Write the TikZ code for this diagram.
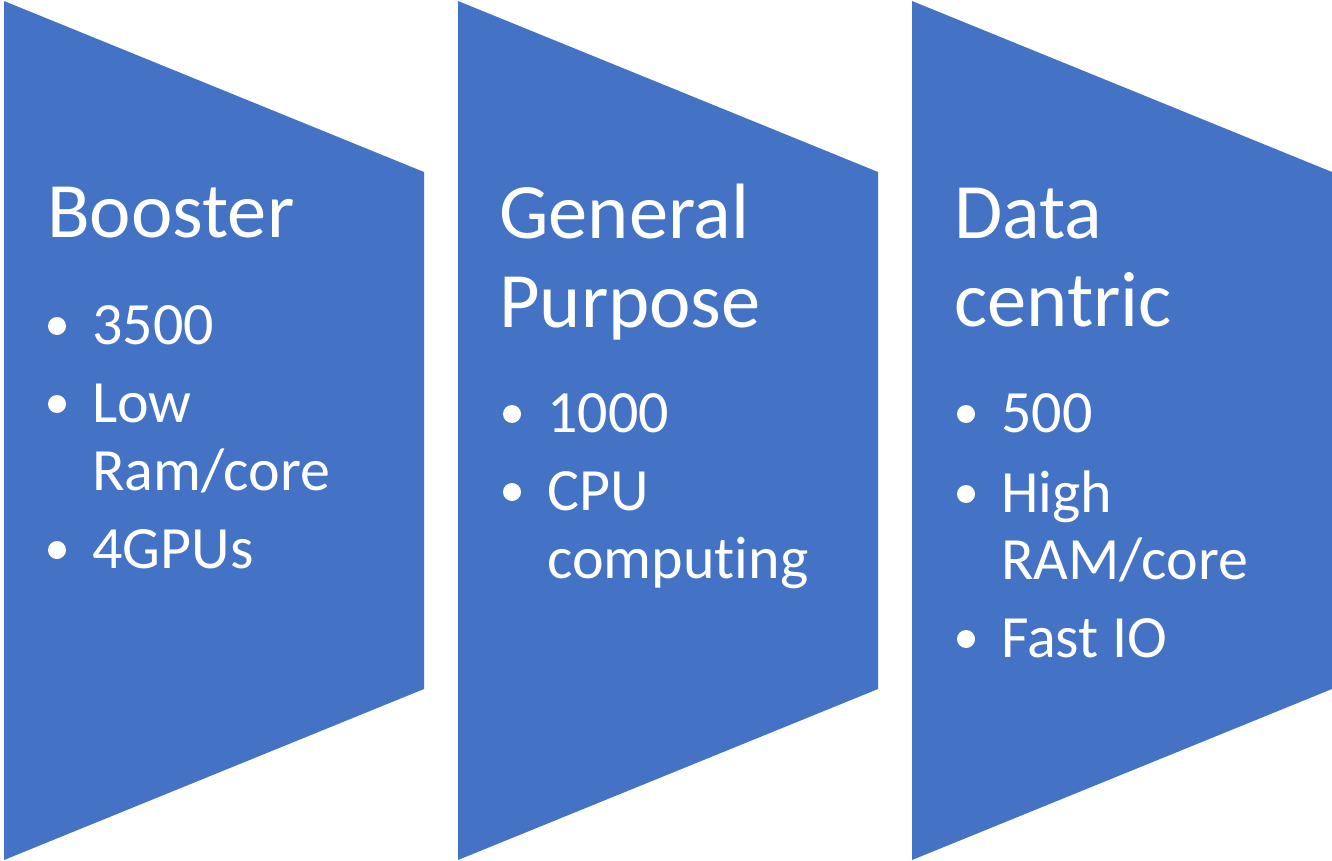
\documentclass[tikz,border=0pt]{standalone}
\usepackage{fontspec}
\setmainfont{Carlito}[Ligatures={NoCommon}]
\definecolor{blk}{HTML}{4472C4}
\begin{document}
\begin{tikzpicture}[x=1pt,y=-1pt,
  chev/.style={fill=blk,draw=none},
  ttl/.style={anchor=base west,inner sep=0pt,text=white,font=\fontsize{78.5}{89}\selectfont},
  itm/.style={anchor=base west,inner sep=0pt,text=white,font=\fontsize{60}{68}\selectfont},
  bdot/.style={circle,fill=white,draw=none,inner sep=0pt,minimum size=18pt}]
\useasboundingbox (0,0) rectangle (1332,861);
% shapes
\foreach \x/\n in {4/a,458/b,912/c}{
  \fill[chev] (\x,1) coordinate (\n tl) -- (\x+420,172) coordinate (\n tr)
    -- (\x+420,689) coordinate (\n br) -- (\x,860) coordinate (\n bl) -- cycle;
}
% column 1
\node[ttl] (t1) at (47,237) {Booster};
\node[bdot] (d11) at (57,326) {};
\node[itm] (i11) at (92,344) {3500};
\node[bdot] (d12) at (57,404) {};
\node[itm] (i12) at (92,422) {Low};
\node[itm] (i12b) at (92,490) {Ram/core};
\node[bdot] (d13) at (57,550) {};
\node[itm] (i13) at (92,568) {4GPUs};
% column 2
\node[ttl] (t2) at (499,238) {General};
\node[ttl] (t2b) at (499,327) {Purpose};
\node[bdot] (d21) at (512,414) {};
\node[itm] (i21) at (547,432) {1000};
\node[bdot] (d22) at (512,492) {};
\node[itm] (i22) at (547,510) {CPU};
\node[itm] (i22b) at (547,578) {computing};
% column 3
\node[ttl] (t3) at (954,238) {Data};
\node[ttl] (t3b) at (954,326) {centric};
\node[bdot] (d31) at (966,414) {};
\node[itm] (i31) at (1001,432) {500};
\node[bdot] (d32) at (966,494) {};
\node[itm] (i32) at (1001,512) {High};
\node[itm] (i32b) at (1001,579) {RAM/core};
\node[bdot] (d33) at (966,639) {};
\node[itm] (i33) at (1001,657) {Fast IO};
\end{tikzpicture}
\end{document}
